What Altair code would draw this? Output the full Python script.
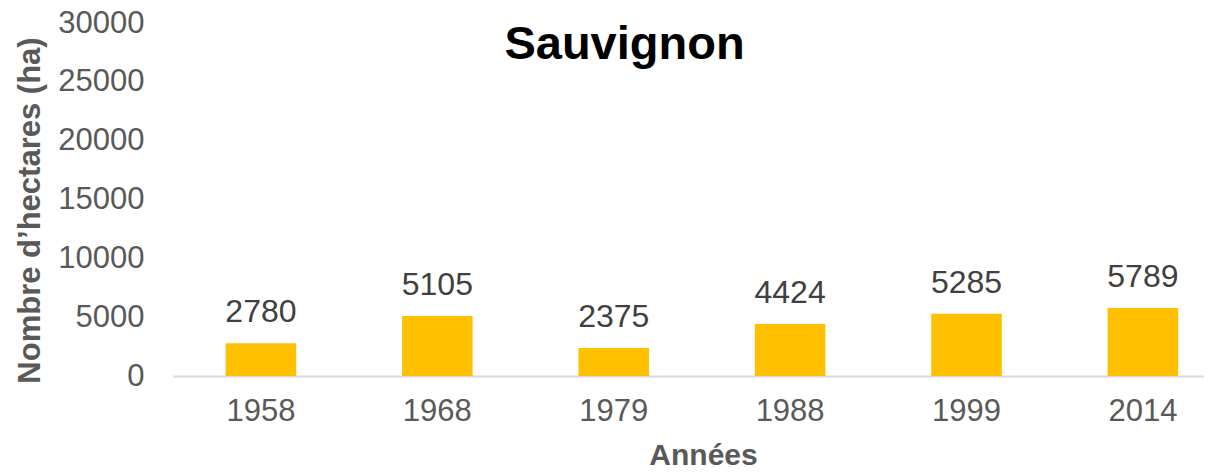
import altair as alt
import pandas as pd

years = ["1958", "1968", "1979", "1988", "1999", "2014"]
hectares = [2780, 5105, 2375, 4424, 5285, 5789]
y_ticks = [0, 5000, 10000, 15000, 20000, 25000, 30000]

df = pd.DataFrame({"Année": years, "Hectares": hectares})

FONT = "Liberation Sans"
GRAY = "#595959"

base = alt.Chart(df).encode(
    x=alt.X(
        "Année:N",
        sort=years,
        scale=alt.Scale(paddingInner=0.6, paddingOuter=0.2225, align=0.671),
        axis=alt.Axis(
            title="Années",
            labelAngle=0,
            labelFont=FONT,
            labelFontSize=31,
            labelColor=GRAY,
            labelPadding=20,
            labelBaseline="top",
            ticks=False,
            domain=True,
            domainColor="#d9d9d9",
            domainWidth=2,
            grid=False,
            titleFont=FONT,
            titleFontSize=30,
            titleFontWeight="bold",
            titleColor=GRAY,
            titleX=530,
            titleY=79,
            titleBaseline="middle",
            titleAlign="center",
        ),
    ),
    y=alt.Y(
        "Hectares:Q",
        scale=alt.Scale(domain=[0, 30000], nice=False),
        axis=alt.Axis(
            title="Nombre d’hectares (ha)",
            values=y_ticks,
            format="d",
            labelFont=FONT,
            labelFontSize=31,
            labelColor=GRAY,
            labelPadding=29,
            ticks=False,
            domain=False,
            grid=False,
            titleFont=FONT,
            titleFontSize=31,
            titleFontWeight="bold",
            titleColor=GRAY,
            titleX=-143,
            titleY=187,
            titleAngle=-90,
            titleBaseline="middle",
            titleAlign="center",
        ),
    ),
)

bars = base.mark_bar(color="#FFC000")
labels = base.mark_text(
    baseline="alphabetic", dy=-21, fontSize=32, color="#404040", font=FONT
).encode(text=alt.Text("Hectares:Q", format="d"))

chart = (
    (bars + labels)
    .properties(
        width=1031,
        height=353,
        title=alt.TitleParams(
            "Sauvignon",
            font=FONT,
            fontSize=47,
            fontWeight="bold",
            color="black",
            anchor="middle",
            offset=-62,
            dx=-64,
        ),
        padding={"left": 165, "top": 15, "right": 0, "bottom": 90},
        autosize=alt.AutoSizeParams(type="none"),
    )
    .configure_view(stroke=None)
)

chart.save("out.html", embed_options={"renderer": "svg", "actions": False})
